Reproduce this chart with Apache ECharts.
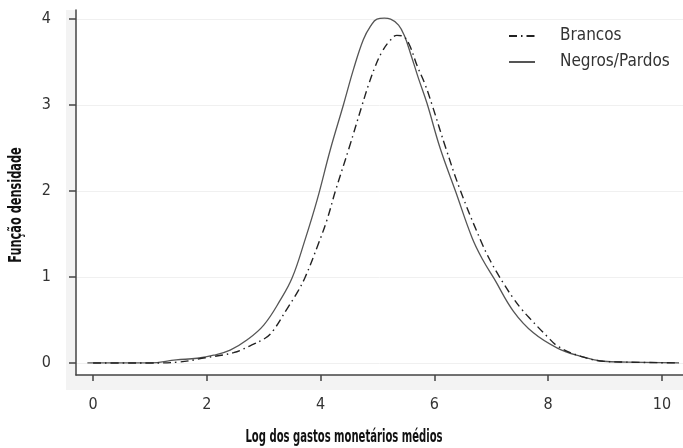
<!DOCTYPE html>
<html lang="pt">
<head>
    <meta charset="UTF-8">
    <title>Função densidade - log dos gastos</title>
    <script src="https://cdn.jsdelivr.net/npm/echarts@6/dist/echarts.min.js"></script>
    <style>
        html, body { margin: 0; padding: 0; background: #fff; }
    </style>
</head>
<body>
    <div id="main" style="width: 683px; height: 448px;"></div>
    <script>
        // valores
        const xTicks = [0, 2, 4, 6, 8, 10]
        const yTicks = [0, 1, 2, 3, 4]

        const negrosX = [-0.1, 0.5, 1.0, 1.46, 1.83, 2.12, 2.41, 2.71, 3.0, 3.29, 3.5, 3.72, 3.94, 4.17, 4.4, 4.58, 4.75, 4.88, 4.99, 5.12, 5.23, 5.37, 5.47, 5.58, 5.72, 5.87, 6.1, 6.37, 6.66, 6.85, 7.05, 7.39, 7.74, 8.17, 8.56, 8.97, 9.39, 10.3]
        const negrosY = [0, 0, 0, 0.035, 0.055, 0.09, 0.15, 0.27, 0.44, 0.73, 0.99, 1.42, 1.9, 2.48, 3.0, 3.42, 3.76, 3.92, 4.0, 4.01, 4.0, 3.93, 3.81, 3.6, 3.31, 3.02, 2.5, 2.0, 1.46, 1.2, 0.98, 0.6, 0.35, 0.17, 0.08, 0.02, 0.01, 0]

        const brancosX = [0, 0.5, 1.0, 1.5, 1.97, 2.47, 2.76, 3.03, 3.17, 3.41, 3.59, 3.73, 3.94, 4.11, 4.26, 4.5, 4.73, 4.84, 4.96, 5.08, 5.22, 5.34, 5.45, 5.56, 5.7, 5.83, 5.96, 6.2, 6.46, 6.81, 6.99, 7.22, 7.39, 7.54, 7.69, 7.98, 8.18, 8.56, 8.97, 9.39, 10.3]
        const brancosY = [0, 0, 0, 0.01, 0.06, 0.12, 0.2, 0.29, 0.38, 0.63, 0.82, 1.0, 1.35, 1.66, 2.0, 2.5, 3.0, 3.23, 3.45, 3.62, 3.75, 3.81, 3.8, 3.7, 3.45, 3.25, 3.0, 2.5, 2.0, 1.43, 1.18, 0.92, 0.75, 0.62, 0.51, 0.31, 0.19, 0.08, 0.02, 0.01, 0]

        const FONT = "'DejaVu Sans Condensed', 'Liberation Sans', sans-serif"

        function pairs (xs, ys) {
            return xs.map((x, i) => [x, ys[i]])
        }

        function init () {
            const myChart = echarts.init(document.getElementById('main'))

            const option = {
                animation: false,
                backgroundColor: '#fff',
                textStyle: { fontFamily: FONT },
                grid: {
                    left: 76, right: 0, top: 10, bottom: 73,
                    show: true, backgroundColor: '#fff', borderWidth: 0
                },
                // fundo cinza claro em volta dos eixos + títulos dos eixos (fonte bem condensada -> scaleX)
                graphic: [
                    {
                        type: 'rect', z: -10, silent: true,
                        shape: { x: 66, y: 10, width: 617, height: 380 },
                        style: { fill: '#f3f3f3' }
                    },
                    {
                        type: 'text', x: 344, y: 437, scaleX: 0.62,
                        style: {
                            text: 'Log dos gastos monetários médios',
                            font: 'bold 18px ' + FONT,
                            fill: '#111', align: 'center', verticalAlign: 'middle'
                        }
                    },
                    {
                        type: 'text', x: 16, y: 205, rotation: Math.PI / 2, scaleX: 0.7,
                        style: {
                            text: 'Função densidade',
                            font: 'bold 18px ' + FONT,
                            fill: '#111', align: 'center', verticalAlign: 'middle'
                        }
                    }
                ],
                legend: {
                    orient: 'vertical',
                    left: 503, top: 22,
                    itemWidth: 26, itemHeight: 14, itemGap: 8,
                    itemStyle: { opacity: 0 },
                    textStyle: { fontSize: 17, lineHeight: 18, color: '#333', padding: [0, 0, 0, 20] },
                    data: ['Brancos', 'Negros/Pardos']
                },
                xAxis: {
                    type: 'value',
                    min: -0.3, max: 10.37,
                    axisLine: { onZero: false, lineStyle: { color: '#444', width: 1.5 } },
                    axisTick: { customValues: xTicks, length: 6, lineStyle: { color: '#444', width: 1.5 } },
                    axisLabel: { customValues: xTicks, margin: 22, fontSize: 16, color: '#333' },
                    splitLine: { show: false }
                },
                yAxis: {
                    type: 'value',
                    min: -0.14, max: 4.105,
                    axisLine: { show: true, onZero: false, lineStyle: { color: '#444', width: 1.5 } },
                    axisTick: { show: true, customValues: yTicks, length: 7, lineStyle: { color: '#444', width: 1.5 } },
                    axisLabel: { customValues: yTicks, margin: 25, fontSize: 16, color: '#333' },
                    splitLine: { show: true, lineStyle: { color: '#f0f0f0', width: 1 } }
                },
                series: [
                    {
                        name: 'Brancos',
                        type: 'line',
                        data: pairs(brancosX, brancosY),
                        symbol: 'none',
                        smooth: 0.4,
                        clip: false,
                        z: 3,
                        color: '#222',
                        lineStyle: { color: '#222', width: 1.4, type: [8, 4, 1.5, 4] }
                    },
                    {
                        name: 'Negros/Pardos',
                        type: 'line',
                        data: pairs(negrosX, negrosY),
                        symbol: 'none',
                        smooth: 0.4,
                        clip: false,
                        z: 2,
                        color: '#555',
                        lineStyle: { color: '#555', width: 1.3 }
                    }
                ]
            }

            myChart.setOption(option)
        }

        init()
    </script>
</body>
</html>
